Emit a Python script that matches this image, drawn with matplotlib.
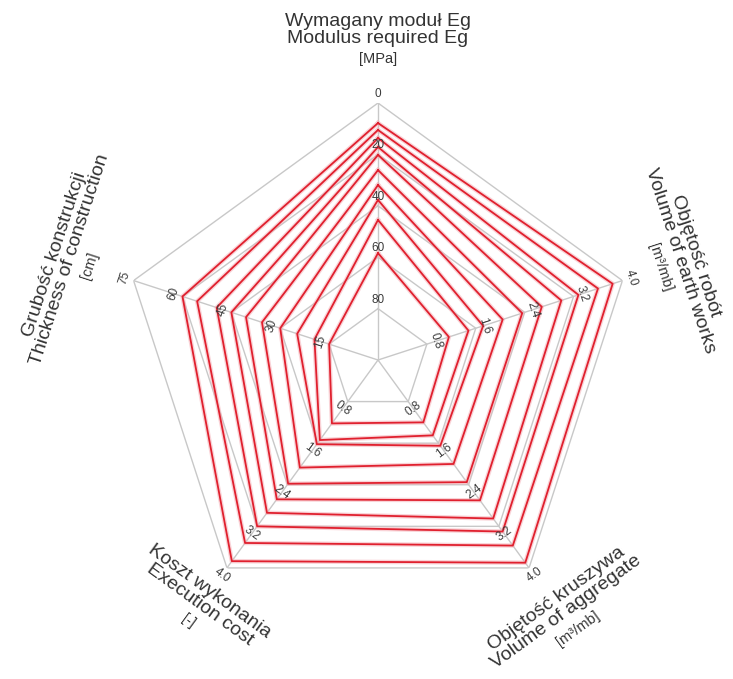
import numpy as np
import matplotlib
matplotlib.use("Agg")
import matplotlib.pyplot as plt

plt.rcParams['font.family'] = ['Liberation Sans', 'DejaVu Sans']

# Axis definitions (clockwise from top)
axis_titles = [
    "Wymagany moduł Eg\nModulus required Eg",
    "Objętość robót\nVolume of earth works",
    "Objętość kruszywa\nVolume of aggregate",
    "Koszt wykonania\nExecution cost",
    "Grubość konstrukcji\nThickness of construction",
]
axis_units = ["[MPa]", "[m³/mb]", "[m³/mb]", "[-]", "[cm]"]

eg_ticks = ["0", "20", "40", "60", "80"]
earth_ticks = ["4.0", "3.2", "2.4", "1.6", "0.8"]
aggr_ticks = ["4.0", "3.2", "2.4", "1.6", "0.8"]
cost_ticks = ["4.0", "3.2", "2.4", "1.6", "0.8"]
thick_ticks = ["75", "60", "45", "30", "15"]

# Series values (outer -> inner)
eg_vals = [7.8, 10.5, 13.6, 17.1, 20.2, 26.1, 31.9, 37.7, 45.5, 58.4]
earth_vals = [3.84, 3.6, 3.28, 3.0, 2.68, 2.36, 2.04, 1.72, 1.48, 1.16]
aggr_vals = [3.9, 3.57, 3.3, 3.05, 2.7, 2.35, 2.0, 1.65, 1.45, 1.2]
cost_vals = [3.87, 3.52, 3.2, 2.94, 2.68, 2.38, 2.07, 1.62, 1.54, 1.22]
thick_vals = [60, 55.5, 49.5, 45, 40.5, 35.6, 30, 24.8, 19.5, 15]

EG_MAX = 100.0
VOL_MAX = 4.0
TH_MAX = 75.0

fig = plt.figure(figsize=(7.33, 6.79), dpi=100)
cx, cy, R = 378 / 733, 1 - 360 / 679, 257
w, h = R / 733, R / 679
ax = fig.add_axes([cx - w, cy - h, 2 * w, 2 * h], projection='polar')
ax.set_theta_offset(np.pi / 2)
ax.set_theta_direction(-1)
ax.set_ylim(0, 1)
ax.grid(False)
ax.spines['polar'].set_visible(False)
ax.set_xticks([])
ax.set_yticks([])
ax.patch.set_alpha(0)

n = 5
angles = np.arange(n) * 2 * np.pi / n
closed = np.append(angles, angles[0])

grid_col = '#c8c8c8'
for lev in [0.2, 0.4, 0.6, 0.8, 1.0]:
    ax.plot(closed, [lev] * (n + 1), color=grid_col, lw=1.0, zorder=1)
for a in angles:
    ax.plot([a, a], [0, 1], color=grid_col, lw=1.0, zorder=1)

# Series
for i in range(len(eg_vals)):
    r = [1 - eg_vals[i] / EG_MAX, earth_vals[i] / VOL_MAX, aggr_vals[i] / VOL_MAX,
         cost_vals[i] / VOL_MAX, thick_vals[i] / TH_MAX]
    r.append(r[0])
    ax.plot(closed, r, color='#f4a8b0', lw=3.2, alpha=0.5, zorder=2)
    ax.plot(closed, r, color='#e0202e', lw=1.3, zorder=3)

# Tick labels
tick_sets = [eg_ticks, earth_ticks, aggr_ticks, cost_ticks, thick_ticks]
rotations = [0, -72, 36, -36, 72]
levels = [1.0, 0.8, 0.6, 0.4, 0.2]
for k in range(n):
    for lab, lev in zip(tick_sets[k], levels):
        ax.text(angles[k], lev + 0.035, lab, rotation=rotations[k],
                rotation_mode='anchor', ha='center', va='center',
                fontsize=8.5, color='#3a3a3a', zorder=5)

# Axis titles (figure pixel positions of the two-line block centre)
title_pos = [(378, 30), (688, 258), (561, 605), (205, 598), (62, 257)]
unit_off = 29
for k in range(n):
    x, y = title_pos[k]
    fig.text(x / 733, 1 - y / 679, axis_titles[k], rotation=rotations[k],
             rotation_mode='anchor', ha='center', va='center', fontsize=14,
             color='#333333', linespacing=0.95)
    th = np.deg2rad(rotations[k])
    dx = unit_off * np.sin(th)
    dy = unit_off * np.cos(th)
    fig.text((x + dx) / 733, 1 - (y + dy) / 679, axis_units[k], rotation=rotations[k],
             rotation_mode='anchor', ha='center', va='center', fontsize=10.5,
             color='#333333')

fig.savefig("out.png", dpi=100, facecolor='white')
